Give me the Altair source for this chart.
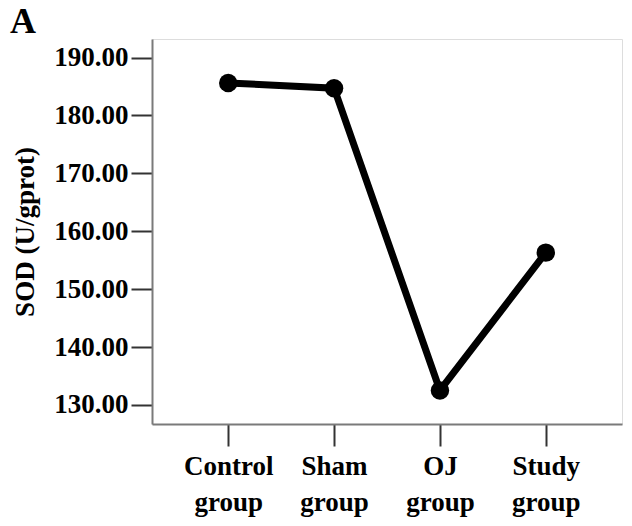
import altair as alt
import pandas as pd

groups = ["Control group", "Sham group", "OJ group", "Study group"]
sod = [185.6, 184.7, 132.5, 156.3]
y_ticks = [130, 140, 150, 160, 170, 180, 190]
panel_label = ["A"]

df = pd.DataFrame({"group": groups, "sod": sod})

FONT = "Liberation Serif"

x = alt.X(
    "group:N",
    sort=groups,
    scale=alt.Scale(type="point", padding=0.72),
    axis=alt.Axis(
        title=None,
        labelAngle=0,
        labelExpr="split(datum.value, ' ')",
        labelFont=FONT,
        labelFontSize=27,
        labelFontWeight="bold",
        labelColor="black",
        labelLineHeight=36,
        labelPadding=7,
        tickSize=22,
        tickWidth=2,
        tickColor="#333",
        domainColor="#7a7a7a",
        domainWidth=2,
    ),
)
y = alt.Y(
    "sod:Q",
    scale=alt.Scale(domain=[126.7, 193.2], nice=False, zero=False),
    axis=alt.Axis(
        title="SOD (U/gprot)",
        values=y_ticks,
        format=".2f",
        grid=False,
        labelFont=FONT,
        labelFontSize=27,
        labelFontWeight="bold",
        labelColor="black",
        labelPadding=3,
        tickSize=21,
        tickWidth=2,
        tickColor="#333",
        domainColor="#7a7a7a",
        domainWidth=2,
        titleFont=FONT,
        titleFontSize=27,
        titleFontWeight="bold",
        titleColor="black",
        titlePadding=14,
    ),
)

line = alt.Chart(df).mark_line(color="black", strokeWidth=7).encode(x=x, y=y)
pts = alt.Chart(df).mark_point(filled=True, color="black", opacity=1, size=340).encode(x=x, y=y)
label = (
    alt.Chart(pd.DataFrame({"t": panel_label}))
    .mark_text(
        align="left",
        baseline="alphabetic",
        font=FONT,
        fontSize=36,
        fontWeight="bold",
        color="black",
    )
    .encode(text="t:N", x=alt.value(-142), y=alt.value(-6))
)

chart = (
    (line + pts + label)
    .properties(
        width=470,
        height=385,
        padding={"left": 144, "top": 31, "right": 2, "bottom": 94},
        autosize=alt.AutoSizeParams(type="none"),
    )
    .configure_view(stroke="#7a7a7a", strokeWidth=2)
    .configure(background="white")
)

chart.save("out.html", embed_options={"renderer": "svg", "actions": False})
